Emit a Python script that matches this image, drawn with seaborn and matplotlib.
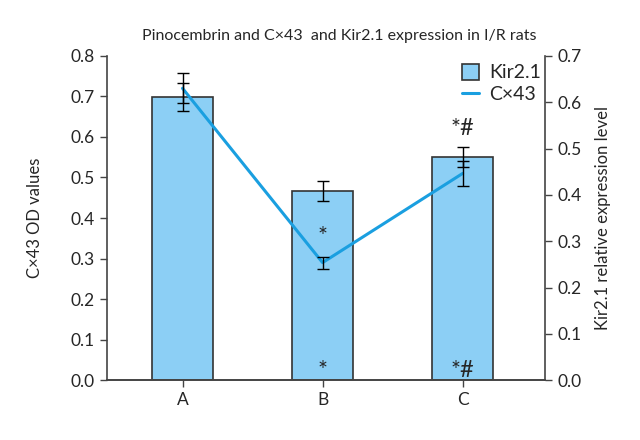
import numpy as np
import pandas as pd
import matplotlib
matplotlib.use('Agg')
import matplotlib.pyplot as plt
import seaborn as sns
from matplotlib.patches import Patch
from matplotlib.lines import Line2D

# data
groups = ['A', 'B', 'C']
kir21 = [0.611, 0.408, 0.482]       # bars, right axis
kir21_err = [0.030, 0.022, 0.022]
cx43 = [0.72, 0.29, 0.51]           # line, left axis
cx43_err = [0.037, 0.015, 0.030]
marks_top = ['', '*', '*#']
marks_bottom = ['', '*', '*#']

sns.set_style('ticks')
plt.rcParams['font.family'] = ['Lato', 'DejaVu Sans']

bar_color = '#8ccff5'
line_color = '#1a9fe0'
edge = '#333333'

df = pd.DataFrame({'group': groups, 'kir': kir21, 'cx': cx43})

fig = plt.figure(figsize=(6.4, 4.4), dpi=100)
ax = fig.add_axes([0.167, 0.136, 0.685, 0.737])

# bars (Kir2.1) on the base axes
sns.barplot(data=df, x='group', y='kir', color=bar_color, edgecolor=edge,
            linewidth=1.2, width=0.44, saturation=1, ax=ax)
ax.errorbar(np.arange(len(groups)), kir21, yerr=kir21_err, fmt='none',
            ecolor='black', elinewidth=1, capsize=4, capthick=1)
ax.set_ylim(0, 0.7)
ax.set_xlim(-0.54, 2.59)
ax.set_xlabel('')
ax.set_ylabel('')

# line (Cx43) on the twin axes
ax2 = ax.twinx()
sns.lineplot(x=np.arange(len(groups)), y=cx43, color=line_color, linewidth=2.2,
             sort=False, ax=ax2)
ax2.errorbar(np.arange(len(groups)), cx43, yerr=cx43_err, fmt='none',
             ecolor='black', elinewidth=1, capsize=4, capthick=1)
ax2.set_ylim(0, 0.8)

# swap sides: Kir2.1 scale on the right, Cx43 scale on the left
ax.yaxis.tick_right()
ax.yaxis.set_label_position('right')
ax2.yaxis.tick_left()
ax2.yaxis.set_label_position('left')

ax.set_yticks(np.arange(0, 0.71, 0.1))
ax.set_yticklabels([f'{v:.1f}' for v in np.arange(0, 0.71, 0.1)])
ax.set_ylabel('Kir2.1 relative expression level', fontsize=12, labelpad=10)
ax2.set_yticks(np.arange(0, 0.81, 0.1))
ax2.set_yticklabels([f'{v:.1f}' for v in np.arange(0, 0.81, 0.1)])
ax2.set_ylabel('C×43 OD values', fontsize=12, labelpad=20)

for a in (ax, ax2):
    a.spines['top'].set_visible(False)
    for s in a.spines.values():
        s.set_color('#444444')
        s.set_linewidth(1.2)
    a.tick_params(labelsize=12.5, length=5, width=1, color='#444444')
ax.spines['left'].set_visible(False)
ax2.spines['right'].set_visible(False)
ax2.spines['left'].set_visible(True)
ax.spines['right'].set_visible(True)

# significance marks
for i, (t, b) in enumerate(zip(marks_top, marks_bottom)):
    if t:
        ytop = kir21[i] + kir21_err[i] + 0.04 if i == 2 else 0.31
        ax.text(i, ytop, t, ha='center', va='center', fontsize=17)
    if b:
        ax.text(i, 0.02, b, ha='center', va='center', fontsize=17)

handles = [Patch(facecolor=bar_color, edgecolor=edge, linewidth=1.2),
           Line2D([0], [0], color=line_color, linewidth=2.2)]
ax2.legend(handles, ['Kir2.1', 'C×43'], loc='upper left',
           bbox_to_anchor=(0.77, 1.03), frameon=False, fontsize=14,
           handlelength=0.9, handleheight=0.9, handletextpad=0.5,
           labelspacing=0.2)

fig.suptitle('Pinocembrin and C×43  and Kir2.1 expression in I/R rats',
             fontsize=11.5, x=0.53, y=0.935)

fig.savefig('out.png', dpi=100)
